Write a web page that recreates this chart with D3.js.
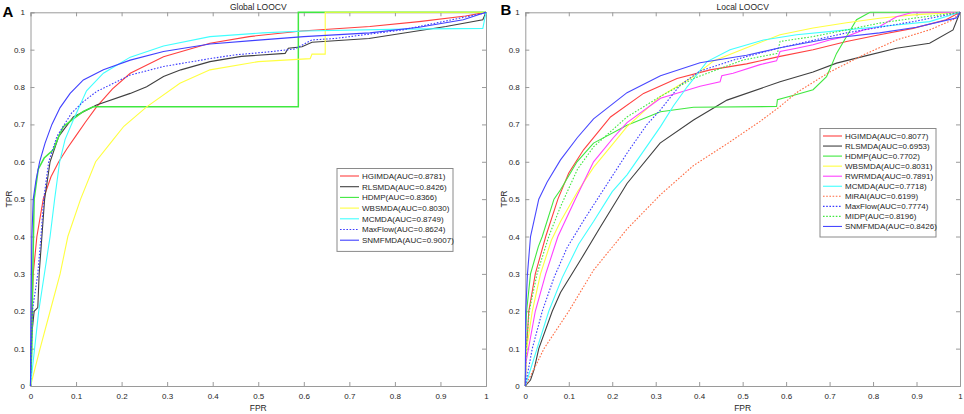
<!doctype html>
<html>
<head>
<meta charset="utf-8">
<script src="https://d3js.org/d3.v7.min.js"></script>
<style>
  body { margin: 0; background: #fff; }
  text { font-family: Arial, "Liberation Sans", sans-serif; fill: #262626; }
  .line { fill: none; stroke-width: 1.1px; }
  .axis path, .axis line { stroke: #9a9a9a; }
</style>
</head>
<body>
<div id="chart"></div>
<script>
// ---- data (FPR, TPR pairs) ----
var tickVals = [0, 0.1, 0.2, 0.3, 0.4, 0.5, 0.6, 0.7, 0.8, 0.9, 1];

// panel A : global LOOCV
var globalNames = ["HGIMDA(AUC=0.8781)", "RLSMDA(AUC=0.8426)", "HDMP(AUC=0.8366)", "WBSMDA(AUC=0.8030)",
                   "MCMDA(AUC=0.8749)", "MaxFlow(AUC=0.8624)", "SNMFMDA(AUC=0.9007)"];
var globalColors = ["#ff4040", "#404040", "#40e840", "#ffff40", "#40ffff", "#3c3cff", "#4040ff"];
var globalDash = [false, false, false, false, false, true, false];

var gHGIMDA = [[0,0],[0.002,0.1],[0.003,0.2],[0.006,0.3],[0.014,0.4],[0.028,0.5],[0.045,0.56],[0.062,0.6],
  [0.08,0.635],[0.1,0.67],[0.12,0.705],[0.145,0.747],[0.18,0.795],[0.219,0.837],[0.292,0.881],[0.394,0.917],
  [0.48,0.935],[0.595,0.95],[0.745,0.962],[0.853,0.975],[0.955,0.99],[1,1]];
var gRLSMDA = [[0,0],[0.001,0.1],[0.003,0.14],[0.008,0.2],[0.016,0.21],[0.019,0.3],[0.025,0.4],[0.031,0.5],
  [0.043,0.6],[0.062,0.668],[0.094,0.72],[0.145,0.752],[0.219,0.783],[0.255,0.801],[0.292,0.828],
  [0.33,0.846],[0.394,0.868],[0.463,0.882],[0.559,0.89],[0.566,0.904],[0.596,0.908],[0.618,0.92],
  [0.743,0.93],[0.817,0.944],[0.912,0.962],[0.993,0.98],[1,1]];
var gHDMP = [[0,0],[0.003,0.1],[0.005,0.3],[0.008,0.5],[0.017,0.58],[0.03,0.61],[0.05,0.632],[0.062,0.668],
  [0.072,0.694],[0.094,0.715],[0.116,0.735],[0.138,0.747],[0.588,0.747],[0.588,1],[1,1]];
var gWBSMDA = [[0,0],[0.021,0.1],[0.043,0.2],[0.065,0.3],[0.082,0.4],[0.11,0.5],[0.143,0.6],[0.182,0.66],
  [0.205,0.695],[0.255,0.747],[0.328,0.81],[0.394,0.846],[0.5,0.868],[0.614,0.876],[0.618,0.888],
  [0.647,0.888],[0.647,1],[1,1]];
var gMCMDA = [[0,0],[0.018,0.2],[0.043,0.4],[0.053,0.5],[0.064,0.6],[0.076,0.66],[0.094,0.712],[0.123,0.79],
  [0.16,0.837],[0.219,0.88],[0.292,0.91],[0.394,0.935],[0.51,0.945],[0.6,0.95],[0.82,0.955],
  [0.993,0.957],[1,1]];
var gMaxFlow = [[0,0],[0.004,0.2],[0.016,0.3],[0.023,0.4],[0.029,0.5],[0.04,0.6],[0.058,0.668],[0.09,0.73],
  [0.115,0.76],[0.145,0.788],[0.219,0.832],[0.292,0.855],[0.394,0.876],[0.448,0.886],[0.522,0.894],
  [0.581,0.902],[0.618,0.926],[0.669,0.93],[0.817,0.953],[0.993,0.997],[1,1]];
var gSNMFMDA = [[0,0],[0.001,0.2],[0.003,0.4],[0.006,0.5],[0.012,0.55],[0.02,0.6],[0.032,0.65],[0.047,0.7],
  [0.065,0.745],[0.087,0.783],[0.116,0.819],[0.16,0.846],[0.219,0.872],[0.292,0.895],[0.394,0.915],
  [0.493,0.925],[0.6,0.935],[0.745,0.945],[0.853,0.96],[0.95,0.98],[1,1]];
var globalSeries = [gHGIMDA, gRLSMDA, gHDMP, gWBSMDA, gMCMDA, gMaxFlow, gSNMFMDA];

// panel B : local LOOCV
var localNames = ["HGIMDA(AUC=0.8077)", "RLSMDA(AUC=0.6953)", "HDMP(AUC=0.7702)", "WBSMDA(AUC=0.8031)",
                  "RWRMDA(AUC=0.7891)", "MCMDA(AUC=0.7718)", "MiRAI(AUC=0.6199)", "MaxFlow(AUC=0.7774)",
                  "MIDP(AUC=0.8196)", "SNMFMDA(AUC=0.8426)"];
var localColors = ["#ff4040", "#404040", "#40e840", "#ffff40", "#ff40ff", "#40ffff", "#ff6a40", "#3c3cff",
                   "#40e840", "#4848ff"];
var localDash = [false, false, false, false, false, false, true, true, true, false];

var lHGIMDA = [[0,0],[0.001,0.06],[0.008,0.2],[0.023,0.3],[0.047,0.4],[0.075,0.5],[0.1,0.57],[0.134,0.632],
  [0.196,0.72],[0.272,0.783],[0.349,0.823],[0.425,0.846],[0.509,0.862],[0.586,0.882],[0.662,0.9],
  [0.739,0.922],[0.815,0.94],[0.892,0.957],[0.968,0.98],[1,1]];
var lRLSMDA = [[0,0],[0.012,0.016],[0.02,0.043],[0.031,0.1],[0.062,0.2],[0.081,0.25],[0.127,0.337],
  [0.173,0.426],[0.234,0.542],[0.31,0.65],[0.387,0.712],[0.464,0.765],[0.586,0.814],[0.662,0.84],
  [0.716,0.864],[0.778,0.882],[0.854,0.904],[0.93,0.917],[0.984,0.953],[1,1]];
var lHDMP = [[0,0],[0.001,0.15],[0.003,0.2],[0.012,0.3],[0.03,0.373],[0.039,0.4],[0.066,0.5],[0.081,0.525],
  [0.119,0.6],[0.157,0.65],[0.234,0.698],[0.311,0.734],[0.387,0.746],[0.578,0.748],[0.58,0.766],
  [0.624,0.78],[0.662,0.793],[0.693,0.828],[0.70,0.846],[0.716,0.89],[0.739,0.935],[0.762,0.98],
  [0.793,1],[1,1]];
var lWBSMDA = [[0,0],[0.002,0.09],[0.016,0.2],[0.035,0.3],[0.06,0.39],[0.081,0.44],[0.12,0.52],
  [0.157,0.585],[0.203,0.65],[0.234,0.694],[0.311,0.775],[0.387,0.828],[0.433,0.87],[0.509,0.905],
  [0.586,0.94],[0.662,0.958],[0.739,0.972],[0.815,0.984],[0.892,0.993],[1,1]];
var lRWRMDA = [[0,0],[0.001,0.06],[0.023,0.2],[0.047,0.3],[0.075,0.4],[0.115,0.5],[0.157,0.6],[0.203,0.665],
  [0.234,0.705],[0.311,0.77],[0.402,0.802],[0.448,0.814],[0.452,0.83],[0.478,0.837],[0.54,0.86],
  [0.578,0.87],[0.586,0.895],[0.624,0.904],[0.662,0.913],[0.70,0.926],[0.739,0.935],[0.778,0.953],
  [0.815,0.962],[0.854,0.988],[0.892,1],[1,1]];
var lMCMDA = [[0,0],[0.027,0.1],[0.054,0.2],[0.085,0.29],[0.123,0.38],[0.157,0.44],[0.2,0.52],[0.234,0.565],
  [0.311,0.694],[0.341,0.75],[0.372,0.80],[0.418,0.868],[0.471,0.9],[0.548,0.926],[0.624,0.94],
  [0.739,0.953],[0.854,0.966],[0.93,0.975],[1,1]];
var lMiRAI = [[0,0],[0.022,0.05],[0.043,0.1],[0.1,0.2],[0.157,0.31],[0.234,0.42],[0.311,0.512],[0.387,0.59],
  [0.464,0.648],[0.54,0.708],[0.586,0.748],[0.624,0.785],[0.70,0.84],[0.778,0.886],[0.854,0.926],
  [0.93,0.953],[0.984,0.98],[1,1]];
var lMaxFlow = [[0,0],[0.016,0.1],[0.039,0.2],[0.066,0.29],[0.096,0.37],[0.138,0.45],[0.188,0.54],
  [0.234,0.623],[0.28,0.7],[0.311,0.739],[0.356,0.805],[0.402,0.843],[0.478,0.872],[0.586,0.905],
  [0.662,0.925],[0.739,0.945],[0.815,0.96],[0.892,0.975],[1,1]];
var lMIDP = [[0,0],[0.002,0.1],[0.009,0.2],[0.027,0.3],[0.054,0.4],[0.081,0.48],[0.12,0.58],[0.157,0.64],
  [0.234,0.72],[0.311,0.775],[0.387,0.823],[0.5,0.872],[0.58,0.89],[0.586,0.922],[0.662,0.935],
  [0.739,0.953],[0.815,0.971],[0.892,0.984],[1,1]];
var lSNMFMDA = [[0,0],[0.001,0.2],[0.005,0.3],[0.012,0.4],[0.031,0.5],[0.05,0.545],[0.081,0.605],
  [0.12,0.665],[0.157,0.715],[0.234,0.785],[0.311,0.83],[0.402,0.865],[0.509,0.885],[0.586,0.905],
  [0.70,0.93],[0.815,0.945],[0.9,0.96],[0.992,0.985],[1,1]];
var localSeries = [lHGIMDA, lRLSMDA, lHDMP, lWBSMDA, lRWRMDA, lMCMDA, lMiRAI, lMaxFlow, lMIDP, lSNMFMDA];

// ---- drawing ----
var W = 964, H = 414;
var svg = d3.select("#chart").append("svg").attr("width", W).attr("height", H);

function panel(opt) {
  var x = d3.scaleLinear().domain([0, 1]).range([opt.left, opt.right]);
  var y = d3.scaleLinear().domain([0, 1]).range([386, 12.3]);
  var g = svg.append("g");
  var fmt = d3.format("~g");

  // axes, MATLAB style: box with inward ticks
  g.append("g").attr("class", "axis").attr("transform", "translate(0,386)")
    .call(d3.axisBottom(x).tickValues(tickVals).tickSize(-4).tickPadding(7).tickFormat(fmt));
  g.append("g").attr("class", "axis").attr("transform", "translate(0,12.3)")
    .call(d3.axisTop(x).tickValues(tickVals).tickSize(-4).tickFormat(""));
  g.append("g").attr("class", "axis").attr("transform", "translate(" + opt.left + ",0)")
    .call(d3.axisLeft(y).tickValues(tickVals).tickSize(-4).tickPadding(5.5).tickFormat(fmt));
  g.append("g").attr("class", "axis").attr("transform", "translate(" + opt.right + ",0)")
    .call(d3.axisRight(y).tickValues(tickVals).tickSize(-4).tickFormat(""));
  g.selectAll(".axis text").style("font-size", "8px").style("fill", "#262626");
  g.selectAll(".axis .domain").attr("stroke", "#9a9a9a");

  var line = d3.line().x(function(d) { return x(d[0]); }).y(function(d) { return y(d[1]); });

  // curves
  opt.series.forEach(function(s, i) {
    g.append("path")
      .datum(s)
      .attr("class", "line")
      .attr("d", line)
      .style("stroke", opt.colors[i])
      .style("stroke-width", opt.widths ? opt.widths[i] : 1.1)
      .style("stroke-dasharray", opt.dash[i] ? "1.6,1.6" : null);
  });

  // titles and labels
  var mid = (opt.left + opt.right) / 2;
  g.append("text").attr("x", mid).attr("y", 10).attr("text-anchor", "middle")
    .style("font-size", "8.5px").text(opt.title);
  g.append("text").attr("x", mid).attr("y", 411).attr("text-anchor", "middle")
    .style("font-size", "8.5px").text("FPR");
  g.append("text").attr("transform", "translate(" + (opt.left - 18.5) + ",199) rotate(-90)")
    .attr("text-anchor", "middle").style("font-size", "8.5px").text("TPR");
  g.append("text").attr("x", opt.letterX).attr("y", opt.letterY)
    .style("font-size", "15px").style("font-weight", "bold").style("fill", "#000").text(opt.letter);

  // legend
  var lg = g.append("g");
  var n = opt.names.length;
  lg.append("rect")
    .attr("x", opt.lx).attr("y", opt.ly).attr("width", opt.lw)
    .attr("height", opt.rowStep * n + 8)
    .attr("fill", "#fff").attr("stroke", "#8a8a8a").attr("stroke-width", 1);
  opt.names.forEach(function(name, i) {
    var yy = opt.ly + 7.5 + i * opt.rowStep;
    lg.append("line")
      .attr("x1", opt.lx + 3).attr("x2", opt.lx + 22).attr("y1", yy).attr("y2", yy)
      .style("stroke", opt.colors[i]).style("stroke-width", 1.1)
      .style("stroke-dasharray", opt.dash[i] ? "1.6,1.6" : null);
    lg.append("text").attr("x", opt.lx + 25).attr("y", yy + 2.9)
      .style("font-size", "8px").text(name);
  });
}

panel({
  left: 30.5, right: 486, title: "Global LOOCV", letter: "A", letterX: 2.5, letterY: 16.5,
  series: globalSeries, names: globalNames, colors: globalColors, dash: globalDash,
  widths: [1.1, 1.1, 1.5, 1.1, 1.1, 1.1, 1.1],
  lx: 337, ly: 168.5, lw: 116, rowStep: 10.7
});

panel({
  left: 525.3, right: 960, title: "Local LOOCV", letter: "B", letterX: 500.5, letterY: 14.8,
  series: localSeries, names: localNames, colors: localColors, dash: localDash,
  lx: 820, ly: 128.5, lw: 116, rowStep: 10.05
});
</script>
</body>
</html>
